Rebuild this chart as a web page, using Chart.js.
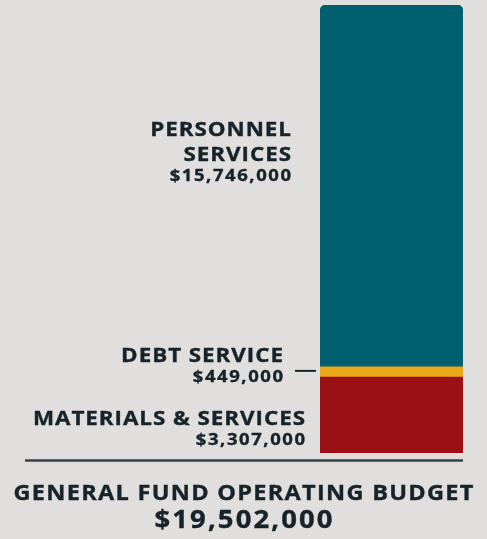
<!DOCTYPE html>
<html>
<head>
<meta charset="utf-8">
<script src="https://cdn.jsdelivr.net/npm/chart.js@4"></script>
<style>
	body { margin: 0; background: #e0dfdd; font-family: "Open Sans", sans-serif; }
	#wrap { position: relative; width: 487px; height: 539px; }
	.total { position: absolute; left: 0; width: 487px; text-align: center; color: #16232a; font-weight: 700; white-space: nowrap; box-sizing: border-box; transform: scaleX(1.12); transform-origin: 243.5px 0; -webkit-text-stroke: 0.35px #16232a; }
	#total-title { top: 480px; font-size: 21px; letter-spacing: 1.15px; padding-left: 1.15px; line-height: 24px; }
	#total-value { top: 504px; font-size: 24.5px; letter-spacing: 1.9px; padding-left: 1.9px; line-height: 30px; }
</style>
</head>
<body>
<div id="wrap">
	<canvas id="budget" width="487" height="539"></canvas>
	<div id="total-title" class="total">GENERAL FUND OPERATING BUDGET</div>
	<div id="total-value" class="total">$19,502,000</div>
</div>
<script>
// budget parts, bottom to top
const categories = ["MATERIALS & SERVICES", "DEBT SERVICE", "PERSONNEL SERVICES"];
const labelLines = [["MATERIALS & SERVICES"], ["DEBT SERVICE"], ["PERSONNEL", "SERVICES"]];
const amounts = [3307000, 449000, 15746000];
const colors = ["#9b1014", "#eca81c", "#015f70"];

const total = amounts.reduce((a, b) => a + b, 0);
const stretch = 1.12;

function money(v) {
	return "$" + v.toLocaleString("en-US");
}

// right aligned, a bit wider and heavier than plain Open Sans bold
function wideText(ctx, txt, x, y, spacing) {
	ctx.save();
	ctx.scale(stretch, 1);
	ctx.letterSpacing = spacing + "px";
	ctx.fillText(txt, (x + spacing * stretch) / stretch, y);
	ctx.lineWidth = 0.35;
	ctx.strokeText(txt, (x + spacing * stretch) / stretch, y);
	ctx.restore();
}

// draws the text beside each segment
const sideLabels = {
	id: "sideLabels",
	afterDatasetsDraw(chart) {
		const ctx = chart.ctx;
		const y = chart.scales.y;
		const left = chart.chartArea.left;
		let base = 0;
		ctx.save();
		ctx.fillStyle = "#16232a";
		ctx.strokeStyle = "#16232a";
		ctx.textBaseline = "alphabetic";
		ctx.textAlign = "right";
		for (let i = 0; i < amounts.length; i++) {
			const bottom = y.getPixelForValue(base);
			const top = y.getPixelForValue(base + amounts[i]);
			const mid = (top + bottom) / 2;
			base += amounts[i];
			// x = right edge of text, firstY = centre of first caps line
			let x, firstY;
			if (i == 0) {
				x = left - 15;
				firstY = mid + 3;
			} else if (i == 1) {
				x = left - 37;
				firstY = mid - 17.4;
				// leader line
				ctx.lineWidth = 2;
				ctx.beginPath();
				ctx.moveTo(left - 25, mid - 1);
				ctx.lineTo(left - 4, mid - 1);
				ctx.stroke();
			} else {
				x = left - 29;
				firstY = mid - 57.2;
			}
			ctx.font = "700 20px 'Open Sans'";
			let ly = firstY;
			for (const line of labelLines[i]) {
				wideText(ctx, line, x, ly + 7.1, 0.85);
				ly += 25;
			}
			ly -= 3.6;
			ctx.font = "700 16.5px 'Open Sans'";
			wideText(ctx, money(amounts[i]), x, ly + 5.9, 1.4);
		}
		// base line under the bar
		const b = y.getPixelForValue(0);
		ctx.strokeStyle = "#364246";
		ctx.lineWidth = 2.5;
		ctx.beginPath();
		ctx.moveTo(25, b + 7.5);
		ctx.lineTo(chart.chartArea.right, b + 7.5);
		ctx.stroke();
		ctx.restore();
	}
};

const datasets = amounts.map((v, i) => ({
	label: categories[i],
	data: [v],
	backgroundColor: colors[i],
	borderWidth: 0,
	borderSkipped: false,
	borderRadius: i == amounts.length - 1 ? { topLeft: 6, topRight: 6, bottomLeft: 0, bottomRight: 0 } : 0,
	barPercentage: 1,
	categoryPercentage: 1,
}));

new Chart("budget", {
	type: "bar",
	data: { labels: ["Budget"], datasets: datasets },
	options: {
		responsive: false,
		animation: false,
		layout: { padding: { left: 320, right: 24, top: 5, bottom: 86 } },
		plugins: { legend: { display: false }, tooltip: { enabled: false } },
		scales: {
			x: { stacked: true, display: false },
			y: { stacked: true, display: false, min: 0, max: total },
		},
	},
	plugins: [sideLabels],
});
</script>
</body>
</html>
